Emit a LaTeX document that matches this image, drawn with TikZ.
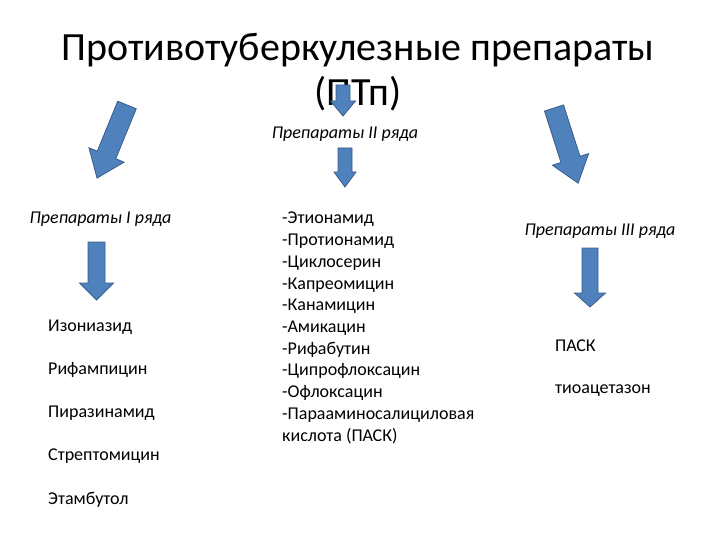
\documentclass[tikz,border=0pt]{standalone}
\usepackage{fontspec}
\setmainfont{Carlito}
\definecolor{arrowfill}{HTML}{4F81BD}
\definecolor{arrowedge}{HTML}{385D8A}
\tikzset{
  x=1pt, y=1pt,
  arrowstyle/.style={fill=arrowfill, draw=arrowedge, line width=0.8pt, line join=miter},
  titletext/.style={inner sep=0, font=\fontsize{40}{45}\selectfont, align=center},
  itemtext/.style={inner sep=0, anchor=base west, font=\fontsize{18}{21.7}\selectfont},
  headtext/.style={inner sep=0, anchor=base, font=\fontsize{18}{21.7}\selectfont\itshape}
}
% block arrow: x, y (top centre), rotation, length, shaft half width, head half width, head length
\newcommand\barrow[7]{%
  \begin{scope}[shift={(#1,#2)}, rotate=#3]
    \draw[arrowstyle] (-#5,0) -- (-#5,-#4+#7) -- (-#6,-#4+#7) -- (0,-#4)
      -- (#6,-#4+#7) -- (#5,-#4+#7) -- (#5,0) -- cycle;
  \end{scope}}
\begin{document}
\begin{tikzpicture}
\useasboundingbox (0,-540) rectangle (720,0);
% title
\node[titletext, anchor=base] (title) at (358,-106) {Противотуберкулезные препараты\\(ПТп)};
% headings
\node[headtext] (h1) at (100.5,-224) {Препараты I ряда};
\node[headtext] (h2) at (345,-139) {Препараты II ряда};
\node[headtext] (h3) at (600,-236) {Препараты III ряда};
% list I
\foreach \t [count=\i] in {Изониазид,Рифампицин,Пиразинамид,Стрептомицин,Этамбутол}
  \node[itemtext] (a\i) at (48,{-331-43.3*(\i-1)}) {\t};
% list II
\foreach \t [count=\i] in {-Этионамид,-Протионамид,-Циклосерин,-Капреомицин,-Канамицин,-Амикацин,-Рифабутин,-Ципрофлоксацин,-Офлоксацин,-Парааминосалициловая,кислота (ПАСК)}
  \node[itemtext] (b\i) at (282,{-224-21.7*(\i-1)}) {\t};
% list III
\node[itemtext] (c1) at (555,-351) {ПАСК};
\node[itemtext] (c2) at (555,-393) {тиоацетазон};
% arrows
\barrow{127}{-105}{-22.3}{79}{10}{19}{25}
\barrow{554}{-108}{17.8}{79}{10}{19}{25}
\barrow{343}{-85}{0}{31}{7}{12.5}{15}
\barrow{345}{-148}{0}{39}{7}{11}{15}
\barrow{96.5}{-242}{0}{58}{8.5}{17}{17}
\barrow{590}{-248}{0}{59}{8}{15.5}{14}
\end{tikzpicture}
\end{document}
